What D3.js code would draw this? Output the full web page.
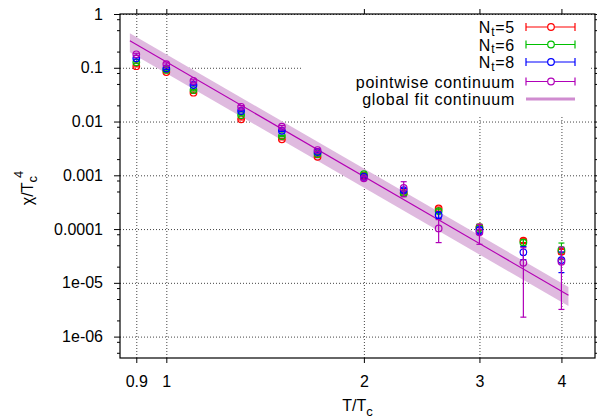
<!DOCTYPE html>
<html>
<head>
<meta charset="utf-8">
<script src="https://cdn.jsdelivr.net/npm/d3@7"></script>
<style>
  body { margin: 0; background: #fff; }
  text { font-family: "Liberation Sans", Arial, sans-serif; }
</style>
</head>
<body>
<script>
const width = 597;
const height = 418;

// temperatures T/Tc
const temps = [0.9, 1.0, 1.1, 1.3, 1.5, 1.7, 2.0, 2.3, 2.6, 3.0, 3.5, 4.0];

const chiNt5 = [0.107, 0.083, 0.0344, 0.0110, 0.00468, 0.00221, 0.00099, 0.00047, 0.000242, 0.000108, 6.1e-5, 3.8e-5];
const errNt5 = [0.003, 0.002, 0.001, 0.0003, 0.00012, 0.00006, 0.00003, 0.00002, 0.000015, 0.00001, 5e-6, 4e-6];
const chiNt6 = [0.126, 0.091, 0.0385, 0.0132, 0.00537, 0.00249, 0.00105, 0.00046, 0.000216, 0.000105, 5.6e-5, 4.1e-5];
const errNt6 = [0.004, 0.003, 0.0012, 0.0004, 0.00015, 0.00007, 0.00005, 0.00003, 0.00002, 0.000018, 8e-6, 1.4e-5];
const chiNt8 = [0.150, 0.097, 0.0478, 0.0157, 0.00673, 0.00271, 0.00094, 0.00053, 0.000182, 0.000095, 3.7e-5, 2.65e-5];
const errNt8 = [0.005, 0.004, 0.0015, 0.0005, 0.0002, 0.00008, 0.00004, 0.00004, 0.000025, 0.000015, 1e-5, 1.1e-5];
const chiCont = [0.178, 0.117, 0.0567, 0.0188, 0.0080, 0.00295, 0.00088, 0.00058, 0.000103, 0.000087, 2.36e-5, 2.47e-5];
const errCont = [0.008, 0.006, 0.003, 0.001, 0.0004, 0.00015, 0.00006, 0.00018, 0.000047, 0.000035, 2.13e-5, 2.15e-5];

// global fit (straight on log-log), end points of line and band
const fitT = [0.88, 4.1];
const fitChi = [0.318, 5.9e-6];
const fitUpper = [0.437, 8.4e-6];
const fitLower = [0.194, 3.7e-6];

const xTicks = [0.9, 1, 2, 3, 4];
const xTickLabels = ["0.9", "1", "2", "3", "4"];
const yTicks = [1, 0.1, 0.01, 0.001, 0.0001, 1e-5, 1e-6];
const yTickLabels = ["1", "0.1", "0.01", "0.001", "0.0001", "1e-05", "1e-06"];

const seriesNames = ["5", "6", "8"];
const seriesColors = ["#ff0000", "#00c000", "#0000ff", "#b000b8"];

const margin = {top: 14, right: 2, bottom: 60, left: 120};
const plotW = width - margin.left - margin.right;
const plotH = height - margin.top - margin.bottom;

const x = d3.scaleLog().domain([0.85, 4.5]).range([0, plotW]);
const y = d3.scaleLog().domain([4e-7, 1]).range([plotH, 0]);

const svg = d3.select("body").append("svg")
  .attr("width", width)
  .attr("height", height);

const g = svg.append("g").attr("transform", `translate(${margin.left},${margin.top})`);

// grid
g.append("g")
  .attr("class", "grid")
  .attr("transform", `translate(0,${plotH})`)
  .call(d3.axisBottom(x).tickValues(xTicks).tickSize(-plotH).tickFormat(""))
  .call(a => a.select(".domain").remove());
g.append("g")
  .attr("class", "grid")
  .call(d3.axisLeft(y).tickValues(yTicks).tickSize(-plotW).tickFormat(""))
  .call(a => a.select(".domain").remove());
g.selectAll(".grid line")
  .attr("stroke", "#444")
  .attr("stroke-width", 1)
  .attr("stroke-dasharray", "1,2");

// fit band + line
const band = d3.area()
  .x((d, i) => x(fitT[i]))
  .y0((d, i) => y(fitLower[i]))
  .y1((d, i) => y(fitUpper[i]));
g.append("path")
  .datum(fitT)
  .attr("d", band)
  .attr("fill", "#dfbadf");

g.append("path")
  .datum(fitT)
  .attr("d", d3.line().x((d, i) => x(fitT[i])).y((d, i) => y(fitChi[i])))
  .attr("fill", "none")
  .attr("stroke", "#b400b4")
  .attr("stroke-width", 1.1);

// data series with error bars
const allSeries = [
  [chiNt5, errNt5],
  [chiNt6, errNt6],
  [chiNt8, errNt8],
  [chiCont, errCont]
];
const capW = 3;

allSeries.forEach(([vals, errs], s) => {
  const color = seriesColors[s];
  const sg = g.append("g");
  temps.forEach((t, i) => {
    const cx = x(t);
    const lo = Math.max(vals[i] - errs[i], 1e-9);
    const yTop = y(vals[i] + errs[i]);
    const yBot = y(lo);
    sg.append("line")
      .attr("x1", cx).attr("x2", cx)
      .attr("y1", yTop).attr("y2", yBot)
      .attr("stroke", color).attr("stroke-width", 1.2);
    [yTop, yBot].forEach(yy => {
      sg.append("line")
        .attr("x1", cx - capW).attr("x2", cx + capW)
        .attr("y1", yy).attr("y2", yy)
        .attr("stroke", color).attr("stroke-width", 1.2);
    });
    sg.append("circle")
      .attr("cx", cx).attr("cy", y(vals[i]))
      .attr("r", 3.3)
      .attr("fill", "none")
      .attr("stroke", color)
      .attr("stroke-width", 1.2);
  });
});

// legend (opaque box hides grid)
svg.append("rect")
  .attr("x", 301).attr("y", 15)
  .attr("width", 288).attr("height", 101)
  .attr("fill", "#fff");

const legendRows = [27, 44.5, 62, 81.5, 99];
const legendText = 515;
const sx1 = 526, sx2 = 575, sxc = 551;

legendRows.forEach((ry, i) => {
  const txt = svg.append("text")
    .attr("x", legendText)
    .attr("y", ry + 6)
    .attr("text-anchor", "end")
    .attr("font-size", "16px")
    .attr("letter-spacing", "0.75px")
    .attr("fill", "#000");
  if (i < 3) {
    txt.append("tspan").text("N");
    txt.append("tspan").attr("dy", 2.5).attr("font-size", "12px").text("t");
    txt.append("tspan").attr("dy", -2.5).text("=" + seriesNames[i]);
  } else if (i === 3) {
    txt.text("pointwise continuum");
  } else {
    txt.text("global fit continuum");
  }

  if (i < 4) {
    const c = seriesColors[i];
    svg.append("line").attr("x1", sx1).attr("x2", sx2).attr("y1", ry).attr("y2", ry)
      .attr("stroke", c).attr("stroke-width", 1.2);
    [sx1, sx2].forEach(xx => {
      svg.append("line").attr("x1", xx).attr("x2", xx).attr("y1", ry - 4).attr("y2", ry + 4)
        .attr("stroke", c).attr("stroke-width", 1.2);
    });
    svg.append("circle").attr("cx", sxc).attr("cy", ry).attr("r", 3.3)
      .attr("fill", "#fff").attr("stroke", c).attr("stroke-width", 1.2);
  } else {
    svg.append("line").attr("x1", sx1).attr("x2", sx2).attr("y1", ry).attr("y2", ry)
      .attr("stroke", "#d08cd0").attr("stroke-width", 3);
  }
});

// axes
const minorY = [];
yTicks.concat([0.1e-6]).forEach(p => [2, 5, 8].forEach(m => {
  const v = p * m / 10;
  if (v >= 4e-7 && v <= 1) minorY.push(v);
}));

function styleAxis(a) {
  a.selectAll("line").attr("stroke", "#000");
  a.select(".domain").remove();
  a.selectAll("text").attr("font-size", "16px").attr("fill", "#000")
    .attr("font-family", "'Liberation Sans', Arial, sans-serif");
}

g.append("g")
  .attr("transform", `translate(0,${plotH})`)
  .call(d3.axisBottom(x).tickValues(xTicks).tickSize(5).tickPadding(13)
    .tickFormat((d, i) => xTickLabels[i]))
  .call(styleAxis);
g.append("g")
  .call(d3.axisTop(x).tickValues(xTicks).tickSize(5).tickFormat(""))
  .call(styleAxis);

g.append("g")
  .call(d3.axisLeft(y).tickValues(yTicks).tickSize(6).tickPadding(11)
    .tickFormat((d, i) => yTickLabels[i]))
  .call(styleAxis);
g.append("g")
  .call(d3.axisLeft(y).tickValues(minorY).tickSize(3).tickFormat(""))
  .call(styleAxis);
g.append("g")
  .attr("transform", `translate(${plotW},0)`)
  .call(d3.axisRight(y).tickValues(yTicks).tickSize(6).tickFormat(""))
  .call(styleAxis);
g.append("g")
  .attr("transform", `translate(${plotW},0)`)
  .call(d3.axisRight(y).tickValues(minorY).tickSize(3).tickFormat(""))
  .call(styleAxis);

g.append("rect")
  .attr("width", plotW).attr("height", plotH)
  .attr("fill", "none").attr("stroke", "#000").attr("stroke-width", 1.2);

// axis titles
const xt = svg.append("text")
  .attr("x", margin.left + plotW / 2)
  .attr("y", 411)
  .attr("text-anchor", "middle")
  .attr("font-size", "16px");
xt.append("tspan").text("T/T");
xt.append("tspan").attr("dy", 5).attr("font-size", "13px").text("c");

const yt = svg.append("text")
  .attr("transform", "translate(33,188) rotate(-90)")
  .attr("text-anchor", "middle")
  .attr("font-size", "16px");
yt.append("tspan").text("χ/T");
yt.append("tspan").attr("dy", 4).attr("font-size", "13px").text("c");
yt.append("tspan").attr("dy", -14).attr("dx", -2).attr("font-size", "13px").text("4");
</script>
</body>
</html>
